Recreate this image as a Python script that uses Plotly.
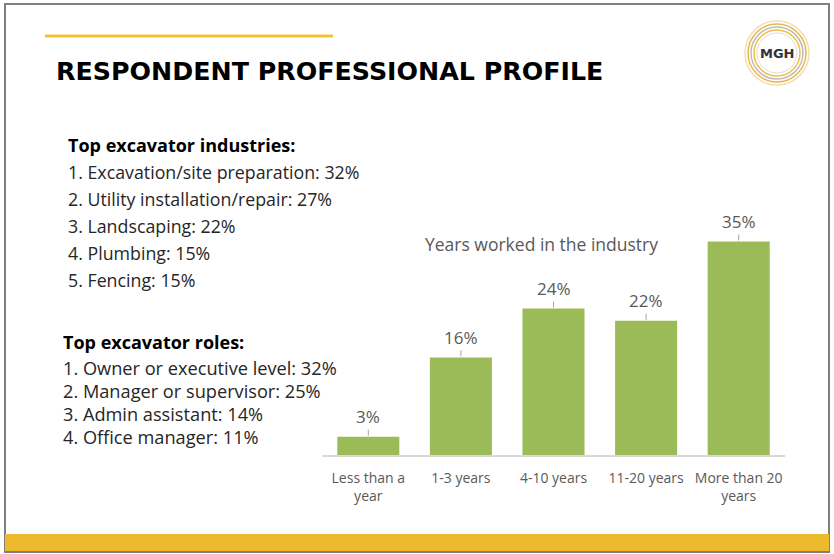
import plotly.graph_objects as go

W, H = 834, 554

categories = ["Less than a<br>year", "1-3 years", "4-10 years", "11-20 years", "More than 20<br>years"]
values = [3, 16, 24, 22, 35]
value_labels = ["3%", "16%", "24%", "22%", "35%"]

industries_title = "Top excavator industries:"
industries = [
    "1. Excavation/site preparation: 32%",
    "2. Utility installation/repair: 27%",
    "3. Landscaping: 22%",
    "4. Plumbing: 15%",
    "5. Fencing: 15%",
]
roles_title = "Top excavator roles:"
roles = [
    "1. Owner or executive level: 32%",
    "2. Manager or supervisor: 25%",
    "3. Admin assistant: 14%",
    "4. Office manager: 11%",
]

FONT = "Open Sans"
GRAY = "#595959"


def px(x):
    return x / W


def py(y):
    return 1 - y / H


fig = go.Figure()
fig.add_trace(go.Bar(
    x=categories, y=values,
    marker=dict(color="#9BBB59", line=dict(width=0)),
    width=0.67, hoverinfo="skip",
))

annotations = []
for c, v, t in zip(categories, values, value_labels):
    annotations.append(dict(
        x=c, y=v, xref="x", yref="y", text=t, showarrow=True,
        arrowhead=0, arrowwidth=1, arrowcolor="#a6a6a6", ax=0, ay=-20,
        standoff=1, font=dict(family=FONT, size=17, color=GRAY),
    ))

# chart title
annotations.append(dict(x=px(541), y=py(244), xref="paper", yref="paper",
                        text="Years worked in the industry", showarrow=False,
                        xanchor="center", yanchor="middle",
                        font=dict(family=FONT, size=17.5, color=GRAY)))

# slide title
annotations.append(dict(x=px(54), y=py(72), xref="paper", yref="paper",
                        text="<b>RESPONDENT PROFESSIONAL PROFILE</b>", showarrow=False,
                        xanchor="left", yanchor="middle",
                        font=dict(family="DejaVu Sans", size=25.3, color="#000000")))

# left text blocks
annotations.append(dict(x=px(66), y=py(145), xref="paper", yref="paper",
                        text="<b>" + industries_title + "</b>", showarrow=False,
                        xanchor="left", yanchor="middle",
                        font=dict(family=FONT, size=18, color="#000000")))
for i, s in enumerate(industries):
    annotations.append(dict(x=px(66), y=py(172 + 27 * i), xref="paper", yref="paper",
                            text=s, showarrow=False, xanchor="left", yanchor="middle",
                            font=dict(family=FONT, size=17.8, color="#262626")))
annotations.append(dict(x=px(61), y=py(342), xref="paper", yref="paper",
                        text="<b>" + roles_title + "</b>", showarrow=False,
                        xanchor="left", yanchor="middle",
                        font=dict(family=FONT, size=18, color="#000000")))
for i, s in enumerate(roles):
    annotations.append(dict(x=px(61), y=py(368 + 23 * i), xref="paper", yref="paper",
                            text=s, showarrow=False, xanchor="left", yanchor="middle",
                            font=dict(family=FONT, size=18.2, color="#262626")))

# logo text
annotations.append(dict(x=px(777), y=py(53), xref="paper", yref="paper",
                        text="<b>MGH</b>", showarrow=False, xanchor="center", yanchor="middle",
                        font=dict(family="DejaVu Sans", size=13, color="#333333")))

shapes = []
# slide border
shapes.append(dict(type="rect", xref="paper", yref="paper", x0=px(5), x1=px(829), y0=py(552), y1=py(4),
                   line=dict(color="#7f7f7f", width=2), fillcolor="rgba(0,0,0,0)", layer="below"))
# top gold line
shapes.append(dict(type="line", xref="paper", yref="paper", x0=px(45), x1=px(333), y0=py(36), y1=py(36),
                   line=dict(color="#F2C12E", width=3)))
# bottom gold band
shapes.append(dict(type="rect", xref="paper", yref="paper", x0=px(5), x1=px(829), y0=py(551), y1=py(534),
                   line=dict(width=0), fillcolor="#EDB92D", layer="below"))
# logo rings
cx, cy = 777, 53
for r, col, w in [(32, "#F3DFAF", 1.5), (29, "#E8B84A", 1.5), (26, "#BDBDBD", 1.5), (23, "#F0C040", 1.5), (20, "#DDDDDD", 1)]:
    shapes.append(dict(type="circle", xref="paper", yref="paper",
                       x0=px(cx - r), x1=px(cx + r), y0=py(cy + r), y1=py(cy - r),
                       line=dict(color=col, width=w), fillcolor="rgba(0,0,0,0)"))

fig.update_layout(
    width=W, height=H,
    margin=dict(l=0, r=0, t=0, b=0),
    paper_bgcolor="white", plot_bgcolor="white",
    showlegend=False,
    bargap=0.33,
    annotations=annotations,
    shapes=shapes,
    xaxis=dict(domain=[px(322), px(785)], showgrid=False, zeroline=False,
               showline=True, linecolor="#d9d9d9", linewidth=1.5,
               ticks="", tickfont=dict(family=FONT, size=14, color=GRAY),
               ticklabelstandoff=9, fixedrange=True),
    yaxis=dict(domain=[py(455), py(211)], range=[0, 40], visible=False, fixedrange=True),
)

fig.write_html("out.html", config={"displayModeBar": False},
               post_script="document.body.style.margin='0';document.body.style.overflow='hidden';")
